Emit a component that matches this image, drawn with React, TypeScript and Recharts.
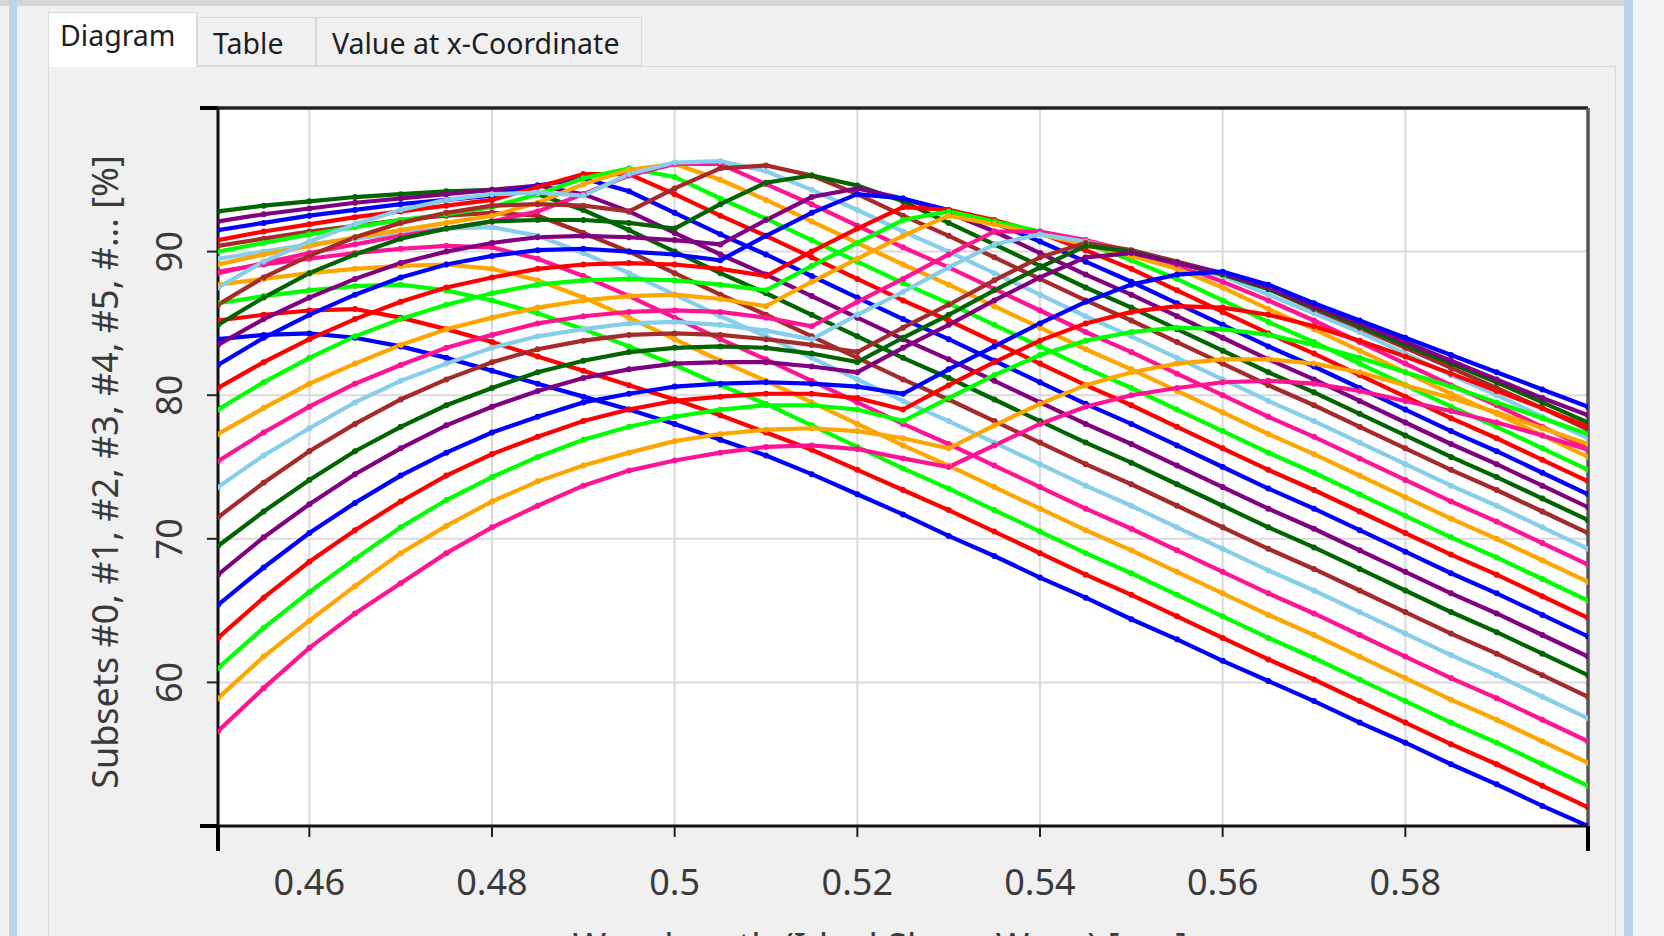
import React from 'react';
import { LineChart, Line, XAxis, YAxis, CartesianGrid, ReferenceLine } from 'recharts';

// x positions (wavelength) shared by all subsets
const X_VALUES = [0.45, 0.455, 0.46, 0.465, 0.47, 0.475, 0.48, 0.485, 0.49, 0.495, 0.5, 0.505, 0.51, 0.515, 0.52, 0.525, 0.53, 0.535, 0.54, 0.545, 0.55, 0.555, 0.56, 0.565, 0.57, 0.575, 0.58, 0.585, 0.59, 0.595, 0.6];

const s00 = [83.9, 84.2, 84.3, 84.0, 83.4, 82.6, 81.7, 80.8, 79.9, 79.0, 78.0, 76.9, 75.8, 74.5, 73.1, 71.7, 70.2, 68.8, 67.3, 65.9, 64.4, 63.0, 61.5, 60.1, 58.7, 57.2, 55.8, 54.3, 52.9, 51.4, 50.0];
const s01 = [85.2, 85.6, 85.9, 86.0, 85.4, 84.6, 83.7, 82.7, 81.7, 80.7, 79.7, 78.6, 77.4, 76.2, 74.8, 73.4, 72.0, 70.5, 69.0, 67.5, 66.1, 64.6, 63.1, 61.6, 60.2, 58.7, 57.2, 55.7, 54.3, 52.8, 51.3];
const s02 = [86.4, 86.9, 87.3, 87.6, 87.7, 87.3, 86.6, 85.7, 84.6, 83.4, 82.1, 80.7, 79.4, 77.9, 76.4, 74.9, 73.5, 72.0, 70.5, 69.0, 67.6, 66.1, 64.6, 63.1, 61.7, 60.2, 58.7, 57.2, 55.8, 54.3, 52.8];
const s03 = [87.7, 88.1, 88.5, 88.8, 89.0, 89.1, 88.8, 88.0, 86.8, 85.4, 83.9, 82.4, 81.0, 79.5, 78.0, 76.5, 75.1, 73.6, 72.1, 70.6, 69.2, 67.7, 66.2, 64.7, 63.3, 61.8, 60.3, 58.8, 57.4, 55.9, 54.4];
const s04 = [88.6, 89.1, 89.5, 89.9, 90.2, 90.4, 90.3, 89.5, 88.3, 86.9, 85.4, 83.9, 82.5, 81.0, 79.5, 78.0, 76.6, 75.1, 73.6, 72.1, 70.7, 69.2, 67.7, 66.2, 64.8, 63.3, 61.8, 60.3, 58.9, 57.4, 55.9];
const s05 = [89.5, 90.0, 90.5, 90.9, 91.3, 91.6, 91.7, 91.1, 89.9, 88.5, 87.0, 85.5, 84.1, 82.6, 81.1, 79.6, 78.2, 76.7, 75.2, 73.7, 72.3, 70.8, 69.3, 67.8, 66.4, 64.9, 63.4, 61.9, 60.5, 59.0, 57.5];
const s06 = [90.4, 90.9, 91.4, 91.8, 92.2, 92.5, 92.7, 92.5, 91.3, 90.0, 88.5, 87.0, 85.6, 84.1, 82.6, 81.1, 79.7, 78.2, 76.7, 75.2, 73.8, 72.3, 70.8, 69.3, 67.9, 66.4, 64.9, 63.4, 62.0, 60.5, 59.0];
const s07 = [92.8, 93.2, 93.5, 93.8, 94.0, 94.2, 94.3, 94.0, 92.9, 91.5, 90.0, 88.5, 87.1, 85.6, 84.1, 82.6, 81.2, 79.7, 78.2, 76.7, 75.3, 73.8, 72.3, 70.8, 69.4, 67.9, 66.4, 64.9, 63.5, 62.0, 60.5];
const s08 = [92.1, 92.6, 93.0, 93.4, 93.7, 94.0, 94.3, 94.6, 94.0, 92.8, 91.3, 89.8, 88.4, 86.9, 85.4, 83.9, 82.5, 81.0, 79.5, 78.0, 76.6, 75.1, 73.6, 72.1, 70.7, 69.2, 67.7, 66.2, 64.8, 63.3, 61.8];
const s09 = [91.5, 92.0, 92.5, 92.9, 93.3, 93.6, 93.9, 94.6, 95.1, 94.2, 92.7, 91.2, 89.8, 88.3, 86.8, 85.3, 83.9, 82.4, 80.9, 79.4, 78.0, 76.5, 75.0, 73.5, 72.1, 70.6, 69.1, 67.6, 66.2, 64.7, 63.2];
const s10 = [90.8, 91.4, 91.9, 92.4, 92.8, 93.2, 93.6, 94.5, 95.4, 95.4, 94.0, 92.5, 91.1, 89.6, 88.1, 86.6, 85.2, 83.7, 82.2, 80.7, 79.3, 77.8, 76.3, 74.8, 73.4, 71.9, 70.4, 68.9, 67.5, 66.0, 64.5];
const s11 = [90.0, 90.6, 91.2, 91.7, 92.2, 92.6, 93.1, 94.0, 95.1, 95.8, 95.2, 93.7, 92.3, 90.8, 89.3, 87.8, 86.4, 84.9, 83.4, 81.9, 80.5, 79.0, 77.5, 76.0, 74.6, 73.1, 71.6, 70.1, 68.7, 67.2, 65.7];
const s12 = [89.1, 89.8, 90.4, 91.0, 91.5, 92.0, 92.5, 93.4, 94.7, 95.7, 96.1, 95.0, 93.6, 92.1, 90.6, 89.1, 87.7, 86.2, 84.7, 83.2, 81.8, 80.3, 78.8, 77.3, 75.9, 74.4, 72.9, 71.4, 70.0, 68.5, 67.0];
const s13 = [88.5, 89.2, 89.9, 90.5, 91.1, 91.6, 92.1, 92.8, 94.0, 95.3, 96.1, 96.1, 94.7, 93.3, 91.8, 90.3, 88.9, 87.4, 85.9, 84.4, 83.0, 81.5, 80.0, 78.5, 77.1, 75.6, 74.1, 72.6, 71.2, 69.7, 68.2];
const s14 = [87.5, 89.3, 90.7, 91.9, 92.9, 93.6, 94.0, 94.1, 93.9, 95.4, 96.2, 96.3, 95.6, 94.3, 92.9, 91.4, 90.0, 88.5, 87.0, 85.5, 84.1, 82.6, 81.1, 79.6, 78.2, 76.7, 75.2, 73.7, 72.3, 70.8, 69.3];
const s15 = [86.3, 88.2, 89.7, 91.0, 92.0, 92.7, 93.2, 93.3, 93.2, 92.8, 94.4, 95.8, 96.0, 95.3, 94.0, 92.5, 91.1, 89.6, 88.1, 86.6, 85.2, 83.7, 82.2, 80.7, 79.3, 77.8, 76.3, 74.8, 73.4, 71.9, 70.4];
const s16 = [84.9, 86.8, 88.5, 89.8, 90.9, 91.6, 92.1, 92.2, 92.2, 92.0, 91.6, 93.3, 94.8, 95.3, 94.6, 93.5, 92.0, 90.5, 89.0, 87.5, 86.1, 84.6, 83.1, 81.6, 80.2, 78.7, 77.2, 75.7, 74.3, 72.8, 71.3];
const s17 = [83.5, 85.3, 86.8, 88.1, 89.2, 90.0, 90.6, 91.0, 91.1, 91.0, 90.8, 90.5, 92.2, 93.8, 94.4, 93.7, 92.7, 91.4, 89.9, 88.4, 87.0, 85.5, 84.0, 82.5, 81.1, 79.6, 78.1, 76.6, 75.2, 73.7, 72.2];
const s18 = [82.1, 84.0, 85.6, 87.0, 88.2, 89.1, 89.7, 90.1, 90.2, 90.0, 89.8, 89.4, 91.1, 92.7, 94.0, 93.7, 92.9, 92.0, 90.7, 89.3, 87.9, 86.4, 84.9, 83.4, 82.0, 80.5, 79.0, 77.5, 76.1, 74.6, 73.1];
const s19 = [80.5, 82.3, 83.9, 85.3, 86.5, 87.5, 88.2, 88.8, 89.1, 89.2, 89.1, 88.8, 88.3, 90.0, 91.6, 93.1, 92.9, 92.2, 91.3, 90.1, 88.8, 87.3, 85.8, 84.3, 82.9, 81.4, 79.9, 78.4, 77.0, 75.5, 74.0];
const s20 = [79.0, 80.9, 82.6, 84.1, 85.3, 86.3, 87.1, 87.7, 88.0, 88.1, 88.0, 87.7, 87.3, 89.0, 90.6, 92.2, 92.8, 92.1, 91.4, 90.6, 89.4, 88.1, 86.6, 85.1, 83.7, 82.2, 80.7, 79.2, 77.8, 76.3, 74.8];
const s21 = [77.3, 79.1, 80.8, 82.2, 83.5, 84.6, 85.4, 86.1, 86.6, 86.9, 87.0, 86.7, 86.2, 87.9, 89.5, 91.1, 92.5, 91.9, 91.2, 90.5, 89.7, 88.8, 87.5, 86.0, 84.6, 83.1, 81.6, 80.1, 78.7, 77.2, 75.7];
const s22 = [75.4, 77.4, 79.2, 80.8, 82.1, 83.3, 84.2, 85.0, 85.5, 85.8, 85.9, 85.8, 85.4, 84.8, 86.5, 88.1, 89.8, 91.4, 91.4, 90.8, 90.0, 89.1, 87.9, 86.6, 85.2, 83.7, 82.2, 80.7, 79.3, 77.8, 76.3];
const s23 = [73.6, 75.8, 77.7, 79.5, 81.0, 82.2, 83.3, 84.1, 84.6, 85.0, 85.1, 84.9, 84.5, 83.9, 85.6, 87.2, 88.9, 90.5, 91.2, 90.7, 90.0, 89.2, 88.3, 87.0, 85.7, 84.4, 82.9, 81.4, 80.0, 78.5, 77.0];
const s24 = [71.5, 73.9, 76.1, 78.0, 79.7, 81.1, 82.3, 83.2, 83.8, 84.2, 84.3, 84.2, 83.9, 83.5, 83.0, 84.7, 86.3, 88.0, 89.6, 90.6, 90.1, 89.3, 88.5, 87.4, 86.0, 84.7, 83.3, 81.9, 80.5, 79.1, 77.6];
const s25 = [69.5, 71.9, 74.1, 76.1, 77.8, 79.3, 80.5, 81.6, 82.4, 83.0, 83.3, 83.4, 83.3, 82.9, 82.3, 84.0, 85.6, 87.3, 88.9, 90.4, 90.0, 89.2, 88.4, 87.4, 86.1, 84.8, 83.5, 82.2, 80.9, 79.5, 78.1];
const s26 = [67.5, 70.1, 72.4, 74.5, 76.3, 77.9, 79.2, 80.3, 81.2, 81.8, 82.2, 82.3, 82.3, 82.0, 81.6, 83.3, 84.9, 86.6, 88.2, 89.6, 89.9, 89.2, 88.5, 87.5, 86.2, 85.0, 83.7, 82.4, 81.1, 79.8, 78.6];
const s27 = [65.4, 68.0, 70.4, 72.5, 74.4, 76.0, 77.4, 78.5, 79.5, 80.1, 80.6, 80.8, 80.9, 80.8, 80.6, 80.1, 81.8, 83.4, 85.0, 86.5, 87.7, 88.4, 88.6, 87.7, 86.4, 85.2, 84.0, 82.8, 81.6, 80.4, 79.2];
const s28 = [63.1, 65.9, 68.4, 70.6, 72.6, 74.4, 75.9, 77.1, 78.2, 79.0, 79.6, 79.9, 80.1, 80.1, 79.8, 79.0, 80.7, 82.3, 83.8, 85.0, 85.8, 86.2, 86.1, 85.6, 84.8, 83.8, 82.7, 81.5, 80.3, 79.1, 77.8];
const s29 = [61.0, 63.8, 66.3, 68.6, 70.8, 72.7, 74.3, 75.7, 76.9, 77.8, 78.5, 79.0, 79.3, 79.3, 79.0, 78.2, 79.8, 81.4, 82.8, 83.8, 84.4, 84.7, 84.6, 84.2, 83.5, 82.6, 81.6, 80.6, 79.5, 78.4, 77.3];
const s30 = [58.9, 61.8, 64.3, 66.7, 69.0, 70.9, 72.6, 74.0, 75.1, 76.0, 76.8, 77.3, 77.6, 77.7, 77.5, 77.0, 76.3, 77.9, 79.4, 80.7, 81.6, 82.2, 82.5, 82.5, 82.2, 81.6, 80.7, 79.8, 78.8, 77.7, 76.6];
const s31 = [56.6, 59.6, 62.4, 64.8, 66.9, 69.0, 70.8, 72.3, 73.7, 74.75, 75.45, 76.0, 76.4, 76.5, 76.25, 75.6, 75.0, 76.5, 78.0, 79.2, 80.0, 80.5, 80.9, 81.0, 80.8, 80.3, 79.6, 78.9, 78.1, 77.2, 76.2];

const SUBSETS = [s00, s01, s02, s03, s04, s05, s06, s07, s08, s09, s10, s11, s12, s13, s14, s15, s16, s17, s18, s19, s20, s21, s22, s23, s24, s25, s26, s27, s28, s29, s30, s31];

const PALETTE = ['#0000FF', '#FF0000', '#00FF00', '#FFA500', '#FF1493', '#87CEEB', '#A52A2A', '#006400', '#800080'];

const X_TICKS = [0.45, 0.46, 0.48, 0.5, 0.52, 0.54, 0.56, 0.58, 0.6];
const Y_TICKS = [50, 60, 70, 80, 90, 100];
const X_LABELS = ['0.46', '0.48', '0.5', '0.52', '0.54', '0.56', '0.58'];

const TABS = ['Diagram', 'Table', 'Value at x-Coordinate'];
const Y_TITLE = 'Subsets #0, #1, #2, #3, #4, #5, #... [%]';
const X_TITLE = 'Wavelength (Ideal Sharp Wave) [\u00b5m]';

const rows = X_VALUES.map((x, i) => {
  const r: Record<string, number> = { x };
  SUBSETS.forEach((s, k) => {
    r['s' + k] = s[i];
  });
  return r;
});

const FONT = '"Segoe UI", "Noto Sans", "Open Sans", sans-serif';
const TICK_SIZE = 11;
const TICK_MARGIN = 8;
const LABEL_SIZE = 36;

const YTick = (props: any) => {
  const { x, y, payload } = props;
  const v = payload.value;
  const ax = x + TICK_SIZE + TICK_MARGIN;
  if (v === 50 || v === 100) {
    return <line x1={ax} y1={y} x2={ax - 18} y2={y} stroke="#000" strokeWidth={4} />;
  }
  return (
    <text
      transform={`translate(${ax - 50},${y}) rotate(-90)`}
      textAnchor="middle"
      dominantBaseline="central"
      fontSize={LABEL_SIZE}
      fontFamily={FONT}
      fill="#3a3a3a"
    >
      {v}
    </text>
  );
};

const XTick = (props: any) => {
  const { x, y, payload } = props;
  const v = payload.value;
  const ay = y - TICK_SIZE - TICK_MARGIN;
  if (v === 0.45 || v === 0.6) {
    return <line x1={x} y1={ay} x2={x} y2={ay + 25} stroke="#000" strokeWidth={4} />;
  }
  const label = X_LABELS[X_TICKS.indexOf(v) - 1];
  return (
    <text x={x} y={ay + 55} textAnchor="middle" dominantBaseline="central" fontSize={LABEL_SIZE} fontFamily={FONT} fill="#3a3a3a">
      {label}
    </text>
  );
};

const tabStyle = (i: number): React.CSSProperties => {
  const lefts = [48, 197, 316];
  const widths = [149, 119, 326];
  const sel = i === 0;
  return {
    position: 'absolute',
    left: lefts[i],
    top: sel ? 12 : 17,
    width: widths[i],
    height: sel ? 55 : 49,
    background: sel ? '#FFFFFF' : '#F0F0F0',
    border: '1px solid #D9D9D9',
    borderBottom: sel ? 'none' : '1px solid #D9D9D9',
    boxSizing: 'border-box',
    fontFamily: FONT,
    fontSize: 28.5,
    color: '#1e1e1e',
    paddingLeft: sel ? 11 : 15,
    paddingTop: sel ? 2 : 5,
    lineHeight: '40px',
    whiteSpace: 'nowrap',
    zIndex: sel ? 2 : 1,
  };
};

export default function App() {
  return (
    <div style={{ position: 'fixed', left: 0, top: 0, width: 1664, height: 936, overflow: 'hidden', background: '#F0F0F0' }}>
      {/* window frame */}
      <div style={{ position: 'absolute', left: 0, top: 0, width: 1664, height: 6, background: '#D6D6D6' }} />
      <div style={{ position: 'absolute', left: 9, top: 0, width: 8, height: 936, background: '#BCD3EC' }} />
      <div style={{ position: 'absolute', left: 1624, top: 0, width: 9, height: 936, background: '#BCD3EC' }} />
      <div style={{ position: 'absolute', left: 1633, top: 0, width: 31, height: 936, background: '#F4F4F4' }} />
      {/* tab panel */}
      <div style={{ position: 'absolute', left: 48, top: 66, width: 1568, height: 900, border: '1px solid #D9D9D9', background: '#F0F0F0', boxSizing: 'border-box' }} />
      {TABS.map((t, i) => (
        <div key={t} style={tabStyle(i)}>
          {t}
        </div>
      ))}
      <div style={{ position: 'absolute', left: 0, top: 0 }}>
        <LineChart width={1664} height={936} data={rows} margin={{ top: 108, right: 76, left: 158, bottom: 50 }}>
          <CartesianGrid stroke="#DADADA" strokeWidth={2} fill="#FFFFFF" fillOpacity={1} />
          <XAxis
            dataKey="x"
            type="number"
            domain={[0.45, 0.6]}
            ticks={X_TICKS}
            height={60}
            interval={0}
            tickSize={TICK_SIZE}
            tickMargin={TICK_MARGIN}
            axisLine={{ stroke: '#111', strokeWidth: 3 }}
            tickLine={{ stroke: '#222', strokeWidth: 2 }}
            tick={<XTick />}
            allowDataOverflow
          />
          <YAxis
            type="number"
            domain={[50, 100]}
            ticks={Y_TICKS}
            width={60}
            interval={0}
            tickSize={TICK_SIZE}
            tickMargin={TICK_MARGIN}
            axisLine={{ stroke: '#111', strokeWidth: 3 }}
            tickLine={{ stroke: '#222', strokeWidth: 2 }}
            tick={<YTick />}
            allowDataOverflow
          />
          <ReferenceLine y={100} stroke="#222" strokeWidth={3.5} />
          <ReferenceLine x={0.6} stroke="#555" strokeWidth={3.5} />
          {SUBSETS.map((_, k) => (
            <Line
              key={k}
              dataKey={'s' + k}
              type="linear"
              stroke={PALETTE[k % 9]}
              strokeWidth={4.2}
              dot={{ r: 3, fill: PALETTE[k % 9], stroke: 'none' }}
              activeDot={false}
              isAnimationActive={false}
            />
          ))}
        </LineChart>
      </div>
      <svg style={{ position: 'absolute', left: 0, top: 0 }} width={1664} height={936}>
        <text
          transform="translate(104,472) rotate(-90)"
          textAnchor="middle"
          dominantBaseline="central"
          fontSize={LABEL_SIZE}
          fontFamily={FONT}
          fill="#3a3a3a"
        >
          {Y_TITLE}
        </text>
        <text x={880} y={945} textAnchor="middle" dominantBaseline="central" fontSize={LABEL_SIZE} fontFamily={FONT} fill="#3a3a3a">
          {X_TITLE}
        </text>
      </svg>
    </div>
  );
}
